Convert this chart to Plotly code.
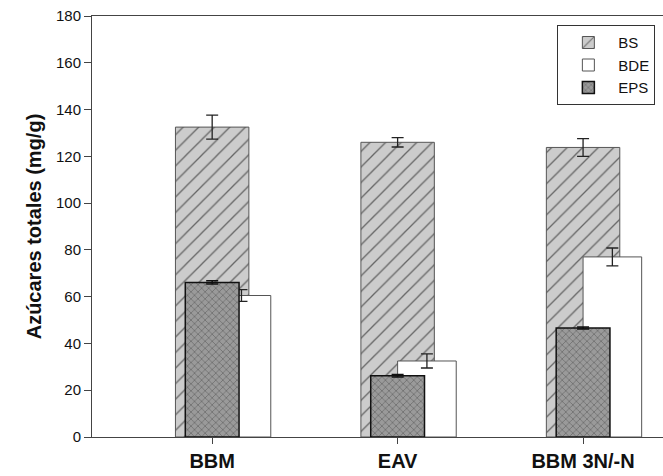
import plotly.graph_objects as go

categories = ["BBM", "EAV", "BBM 3N/-N"]
xpos = [0, 1, 2]
bs_values = [132.5, 126.0, 123.8]
bs_err = [5.1, 2.0, 3.8]
bde_values = [60.5, 32.5, 77.0]
bde_err = [2.5, 3.0, 3.8]
eps_values = [66.1, 26.2, 46.6]
eps_err = [0.7, 0.5, 0.4]
y_ticks = [0, 20, 40, 60, 80, 100, 120, 140, 160, 180]

FONT = "Arial, Liberation Sans, sans-serif"

fig = go.Figure()
fig.add_trace(go.Bar(
    name="BS", x=xpos, y=bs_values, width=0.396, offset=-0.198,
    marker=dict(color="#cccccc", line=dict(color="#555555", width=1),
                pattern=dict(shape="/", fgcolor="#000000", bgcolor="#cccccc", size=11, solidity=0.12)),
    error_y=dict(type="data", array=bs_err, color="#222222", thickness=1.3, width=6),
))
fig.add_trace(go.Bar(
    name="BDE", x=xpos, y=bde_values, width=0.316, offset=0.0,
    marker=dict(color="white", line=dict(color="#555555", width=1)),
    error_y=dict(type="data", array=bde_err, color="#222222", thickness=1.3, width=6),
))
fig.add_trace(go.Bar(
    name="EPS", x=xpos, y=eps_values, width=0.29, offset=-0.145,
    marker=dict(color="#9a9a9a", line=dict(color="#111111", width=1.5),
                pattern=dict(shape="x", fgcolor="#444444", bgcolor="#9a9a9a", size=5, solidity=0.3)),
    error_y=dict(type="data", array=eps_err, color="#111111", thickness=1.5, width=6),
))

fig.update_layout(
    width=663, height=476,
    margin=dict(l=92, r=0, t=16, b=39),
    barmode="overlay",
    paper_bgcolor="white", plot_bgcolor="white",
    font=dict(family=FONT, color="#222222"),
    showlegend=True,
    legend=dict(x=0.815, y=0.978, xanchor="left", yanchor="top",
                bordercolor="#333333", borderwidth=1, bgcolor="white",
                font=dict(size=15, family=FONT, color="#111111"), tracegroupgap=0,
                itemwidth=50),
    xaxis=dict(range=[-0.648, 2.431], tickmode="array", tickvals=xpos,
               ticktext=["<b>%s</b>" % c for c in categories],
               showline=True, linecolor="#444444", linewidth=1, mirror=True,
               ticks="outside", ticklen=6, tickcolor="#444444",
               tickfont=dict(size=20, family=FONT, color="#111111"),
               showgrid=False, zeroline=False, automargin=False),
    yaxis=dict(range=[0, 180], tickmode="array", tickvals=y_ticks,
               showline=True, linecolor="#444444", linewidth=1, mirror=False,
               ticks="outside", ticklen=7, tickcolor="#444444",
               tickfont=dict(size=15, family=FONT, color="#111111"),
               title=dict(text="<b>Azúcares totales (mg/g)</b>", font=dict(size=20, family=FONT, color="#111111"), standoff=8),
               showgrid=False, zeroline=False, automargin=False),
)

fig.write_html("out.html")
